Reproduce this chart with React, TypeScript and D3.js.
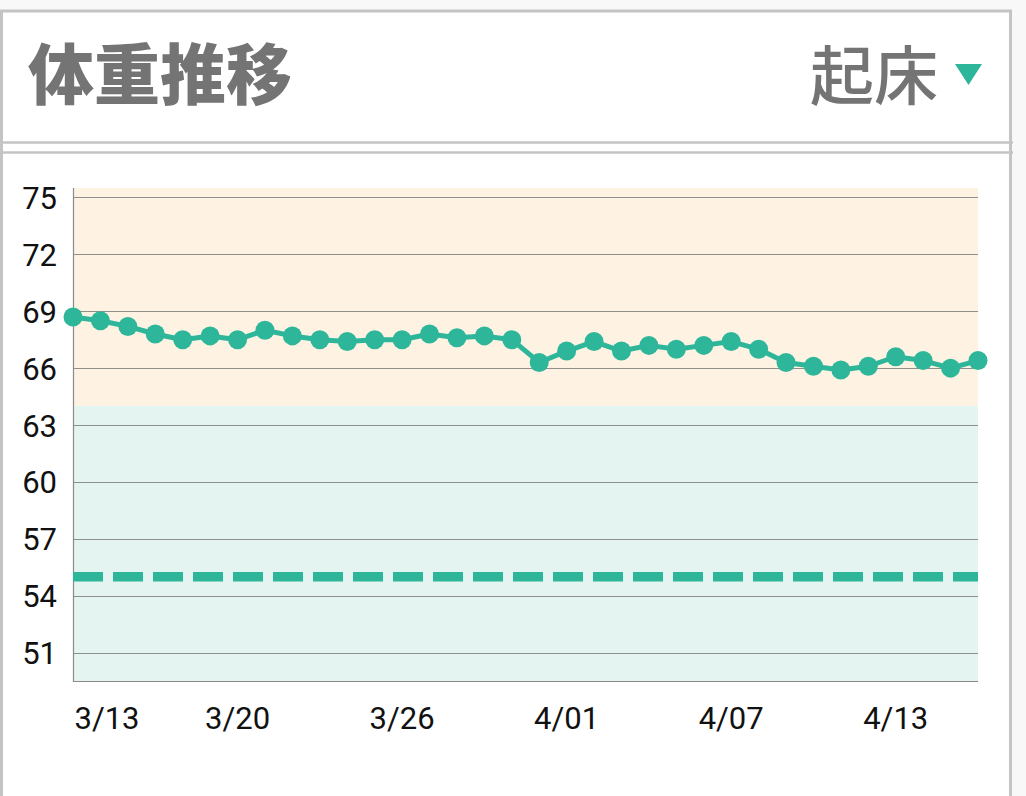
import { useEffect, useRef } from 'react';
import * as d3 from 'd3';

const WIDTH = 1026;
const HEIGHT = 796;

// one reading per day, 3/14 .. 4/16
const startDate = new Date(2024, 2, 14);
const weights = [
  68.7, 68.5, 68.2, 67.8, 67.5, 67.7, 67.5, 68.0, 67.7, 67.5, 67.4, 67.5, 67.5, 67.8, 67.6, 67.7, 67.5,
  66.3, 66.9, 67.4, 66.9, 67.2, 67.0, 67.2, 67.4, 67.0, 66.3, 66.1, 65.9, 66.1, 66.6, 66.4, 66.0, 66.4,
];
const yTicks = [51, 54, 57, 60, 63, 66, 69, 72, 75];
const xTickDays = [-1, 6, 12, 18, 24, 30];
const xTickLabels = ['3/13', '3/20', '3/26', '4/01', '4/07', '4/13'];
const yDomain = [49.5, 75.5];
const bandSplit = 64;
const target = 55;

const TEAL = '#2eb69a';
const BORDER = '#c4c4c4';

export default function App() {
  const svgRef = useRef<SVGSVGElement | null>(null);

  useEffect(() => {
    if (!svgRef.current) return;
    const svg = d3.select(svgRef.current);
    svg.selectAll('*').remove();

    const margin = { top: 188, right: 48, bottom: 115, left: 73 };
    const plotBottom = HEIGHT - margin.bottom;
    const plotRight = WIDTH - margin.right;

    const dates = weights.map((_, i) => d3.timeDay.offset(startDate, i));

    const x = d3
      .scaleTime()
      .domain([dates[0], dates[dates.length - 1]])
      .range([margin.left, plotRight]);

    const y = d3.scaleLinear().domain(yDomain).range([plotBottom, margin.top]);

    // page + card
    svg.append('rect').attr('width', WIDTH).attr('height', HEIGHT).attr('fill', '#f8f8f8');
    svg
      .append('rect')
      .attr('x', 1.5)
      .attr('y', 11)
      .attr('width', 1009)
      .attr('height', 820)
      .attr('fill', '#fff')
      .attr('stroke', BORDER)
      .attr('stroke-width', 3);
    svg
      .append('g')
      .selectAll('line')
      .data([142.5, 152.5])
      .enter()
      .append('line')
      .attr('x1', 0)
      .attr('x2', 1013)
      .attr('y1', (d) => d)
      .attr('y2', (d) => d)
      .attr('stroke', BORDER)
      .attr('stroke-width', 2.5);

    svg
      .append('text')
      .attr('x', 28)
      .attr('y', 99)
      .attr('fill', '#747474')
      .attr('font-family', '"Noto Sans CJK JP", sans-serif')
      .attr('font-weight', 900)
      .attr('font-size', 66)
      .text('体重推移');

    svg
      .append('text')
      .attr('x', 810)
      .attr('y', 99)
      .attr('fill', '#747474')
      .attr('font-family', '"Noto Sans CJK JP", sans-serif')
      .attr('font-weight', 500)
      .attr('font-size', 64)
      .text('起床');

    svg
      .append('path')
      .attr('d', 'M955,64 L982,64 L968.5,85 Z')
      .attr('fill', TEAL);

    // background bands
    svg
      .append('rect')
      .attr('x', margin.left)
      .attr('y', y(yDomain[1]))
      .attr('width', plotRight - margin.left)
      .attr('height', y(bandSplit) - y(yDomain[1]))
      .attr('fill', '#fef3e3');
    svg
      .append('rect')
      .attr('x', margin.left)
      .attr('y', y(bandSplit))
      .attr('width', plotRight - margin.left)
      .attr('height', y(yDomain[0]) - y(bandSplit))
      .attr('fill', '#e4f5f1');

    // grid
    svg
      .append('g')
      .selectAll('line')
      .data(yTicks)
      .enter()
      .append('line')
      .attr('x1', margin.left)
      .attr('x2', plotRight)
      .attr('y1', (d) => Math.round(y(d)) + 0.5)
      .attr('y2', (d) => Math.round(y(d)) + 0.5)
      .attr('stroke', '#7d7d7d')
      .attr('stroke-opacity', 0.85)
      .attr('stroke-width', 1);

    // axes lines
    svg
      .append('path')
      .attr('d', `M${margin.left + 0.5},${margin.top}V${plotBottom + 0.5}H${plotRight}`)
      .attr('fill', 'none')
      .attr('stroke', '#8a8a8a')
      .attr('stroke-width', 1.2);

    svg
      .append('g')
      .selectAll('text')
      .data(yTicks)
      .enter()
      .append('text')
      .attr('x', 57)
      .attr('y', (d) => y(d) + 11.5)
      .attr('text-anchor', 'end')
      .attr('fill', '#111')
      .attr('font-family', 'Roboto, sans-serif')
      .attr('font-size', 31)
      .text((d) => d);

    svg
      .append('g')
      .selectAll('text')
      .data(xTickDays)
      .enter()
      .append('text')
      .attr('x', (d) => Math.max(x(d3.timeDay.offset(startDate, d)), margin.left + 34))
      .attr('y', 729)
      .attr('text-anchor', 'middle')
      .attr('fill', '#111')
      .attr('font-family', 'Roboto, sans-serif')
      .attr('font-size', 31)
      .text((_, i) => xTickLabels[i]);

    // target line
    svg
      .append('line')
      .attr('x1', margin.left)
      .attr('x2', plotRight)
      .attr('y1', y(target))
      .attr('y2', y(target))
      .attr('stroke', TEAL)
      .attr('stroke-width', 9.5)
      .attr('stroke-dasharray', '30 10');

    const line = d3
      .line<number>()
      .x((_, i) => x(dates[i]))
      .y((d) => y(d));

    svg
      .append('path')
      .datum(weights)
      .attr('d', line)
      .attr('fill', 'none')
      .attr('stroke', TEAL)
      .attr('stroke-width', 5)
      .attr('stroke-linejoin', 'round');

    svg
      .append('g')
      .selectAll('circle')
      .data(weights)
      .enter()
      .append('circle')
      .attr('cx', (_, i) => x(dates[i]))
      .attr('cy', (d) => y(d))
      .attr('r', 9.5)
      .attr('fill', TEAL);
  }, []);

  return (
    <svg
      ref={svgRef}
      width={WIDTH}
      height={HEIGHT}
      viewBox={`0 0 ${WIDTH} ${HEIGHT}`}
      style={{ position: 'fixed', left: 0, top: 0, display: 'block' }}
    />
  );
}
